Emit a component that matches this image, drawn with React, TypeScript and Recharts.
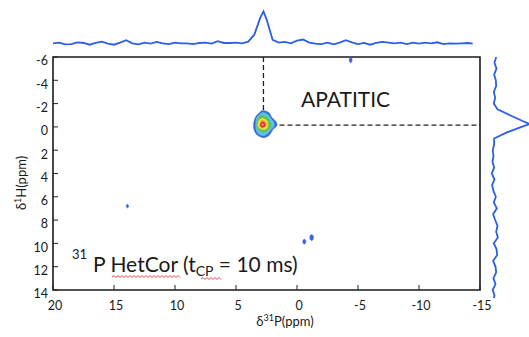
import React from 'react';
import {
  ComposedChart,
  LineChart,
  Line,
  Scatter,
  XAxis,
  YAxis,
  ReferenceLine,
  ReferenceArea,
} from 'recharts';

// ---------- axis ticks ----------
const xTicks = [20, 15, 10, 5, 0, -5, -10, -15];
const yTicks = [-6, -4, -2, 0, 2, 4, 6, 8, 10, 12, 14];

// ---------- top projection (31P) ----------
const topP = [
  20, 19.5, 19, 18.5, 18, 17.5, 17, 16.5, 16, 15.5, 15, 14.5, 14, 13.5, 13, 12.5, 12, 11.5, 11, 10.5,
  10, 9.5, 9, 8.5, 8, 7.5, 7, 6.5, 6, 5.5, 5, 4.5, 4, 3.5, 3, 2.75, 2.5, 2, 1.5, 1, 0.5, 0, -0.5, -1,
  -1.5, -2, -2.5, -3, -3.5, -4, -4.5, -5, -5.5, -6, -6.5, -7, -7.5, -8, -8.5, -9, -9.5, -10, -10.5,
  -11, -11.5, -12, -12.5, -13, -13.5, -14, -14.4,
];
const topI = [
  0, 0.2, -0.3, -0.2, 0.3, 0.1, -0.4, 0.1, 0.5, -0.1, -0.4, 0.2, 0.9, 0.0, -0.3, 0.2, -0.1, 0.4, 0.0, -0.2,
  0.2, 0.0, 0.0, -0.2, 0.1, 0.2, -0.1, 0.6, 0.1, 0.1, 0.2, 0.0, 0.5, 2.5, 7.5, 9.2, 7.0, 1.0, 0.2, 0.4,
  0.0, 0.8, 1.1, 0.2, -0.1, -0.2, 0.2, -0.3, 0.2, 0.9, 0.3, -0.2, 0.1, -0.4, 0.1, 0.4, 0.2, 0.0, 0.2,
  -0.2, 0.2, -0.1, 0.2, 0.0, 0.3, -0.2, 0.0, -0.1, 0.0, 0.1, -0.1,
];

// ---------- right projection (1H) ----------
const rightH = [
  -6, -5.5, -5, -4.5, -4, -3.5, -3, -2.5, -2, -1.5, -1, -0.5, -0.25, 0, 0.5, 1, 1.5, 2, 2.5, 3, 3.5, 4,
  4.5, 5, 5.5, 6, 6.5, 7, 7.5, 8, 8.5, 9, 9.5, 10, 10.5, 11, 11.5, 12, 12.5, 13, 13.5, 14, 14.5, 14.7,
];
const rightI = [
  0.3, -0.2, 0.4, -0.3, 0.2, 0.3, -0.4, 0.0, -0.4, 0.7, 4.4, 8.1, 10.2, 7.8, 3.3, -0.3, -0.3, -0.7, -0.5,
  -0.8, -0.3, -1.0, -0.2, -0.9, -0.5, 0.2, -0.4, 0.5, -0.6, 0.0, 0.7, 0.3, 0.8, -0.4, 0.4, 0.6, -0.6, 0.1,
  0.3, -0.5, 0.1, -0.7, -0.2, -0.4,
];

// ---------- 2D contours (δ31P, δ1H) ----------
const contourBlue = [
  { p: 2.8, h: -1.4 }, { p: 2.31, h: -1.23 }, { p: 2.06, h: -0.8 }, { p: 1.73, h: -0.46 },
  { p: 1.65, h: -0.11 }, { p: 1.98, h: 0.23 }, { p: 2.23, h: 0.66 }, { p: 2.64, h: 0.92 },
  { p: 3.05, h: 0.83 }, { p: 3.37, h: 0.57 }, { p: 3.54, h: 0.14 }, { p: 3.54, h: -0.37 },
  { p: 3.37, h: -0.89 }, { p: 3.05, h: -1.23 },
];
const contourCyan = [
  { p: 2.8, h: -1.23 }, { p: 2.39, h: -1.06 }, { p: 2.14, h: -0.72 }, { p: 1.9, h: -0.37 },
  { p: 1.9, h: -0.03 }, { p: 2.14, h: 0.23 }, { p: 2.39, h: 0.57 }, { p: 2.72, h: 0.74 },
  { p: 3.05, h: 0.66 }, { p: 3.29, h: 0.4 }, { p: 3.37, h: 0.06 }, { p: 3.37, h: -0.37 },
  { p: 3.29, h: -0.8 }, { p: 3.05, h: -1.06 },
];
const contourGreen = [
  { p: 2.8, h: -0.97 }, { p: 2.47, h: -0.8 }, { p: 2.23, h: -0.46 }, { p: 2.14, h: -0.11 },
  { p: 2.31, h: 0.23 }, { p: 2.64, h: 0.4 }, { p: 2.96, h: 0.4 }, { p: 3.21, h: 0.14 },
  { p: 3.29, h: -0.2 }, { p: 3.21, h: -0.63 }, { p: 3.05, h: -0.89 },
];
const contourYellow = [
  { p: 2.8, h: -0.72 }, { p: 2.47, h: -0.54 }, { p: 2.39, h: -0.2 }, { p: 2.47, h: 0.14 },
  { p: 2.8, h: 0.23 }, { p: 3.13, h: 0.06 }, { p: 3.21, h: -0.29 }, { p: 3.05, h: -0.63 },
];
const contourOrange = [
  { p: 2.8, h: -0.54 }, { p: 2.55, h: -0.37 }, { p: 2.55, h: -0.11 }, { p: 2.72, h: 0.06 },
  { p: 2.96, h: 0.06 }, { p: 3.05, h: -0.2 }, { p: 2.96, h: -0.46 },
];
const contourRed = [
  { p: 2.8, h: -0.41 }, { p: 2.64, h: -0.29 }, { p: 2.64, h: -0.07 }, { p: 2.8, h: 0.01 },
  { p: 2.96, h: -0.07 }, { p: 2.96, h: -0.29 },
];
const contourCore = [
  { p: 2.8, h: -0.29 }, { p: 2.72, h: -0.2 }, { p: 2.8, h: -0.11 }, { p: 2.88, h: -0.2 },
];

// small cross peaks
const spotA = [
  { p: 13.9, h: 6.65 }, { p: 13.82, h: 6.72 }, { p: 13.82, h: 6.88 }, { p: 13.9, h: 6.95 },
  { p: 13.98, h: 6.88 }, { p: 13.98, h: 6.72 },
];
const spotB = [
  { p: -0.6, h: 9.64 }, { p: -0.71, h: 9.75 }, { p: -0.71, h: 9.95 }, { p: -0.6, h: 10.06 },
  { p: -0.49, h: 9.95 }, { p: -0.49, h: 9.75 },
];
const spotC = [
  { p: -1.2, h: 9.24 }, { p: -1.33, h: 9.37 }, { p: -1.33, h: 9.63 }, { p: -1.2, h: 9.76 },
  { p: -1.07, h: 9.63 }, { p: -1.07, h: 9.37 },
];
const spotD = [
  { p: -4.4, h: -5.97 }, { p: -4.5, h: -5.86 }, { p: -4.5, h: -5.64 }, { p: -4.4, h: -5.53 },
  { p: -4.3, h: -5.64 }, { p: -4.3, h: -5.86 },
];

// peak position markers
const peakP = 2.75;
const peakH = -0.15;

// ---------- styling ----------
const TRACE = '#2c5fe2';
const FONT = 'Lato, "Open Sans", sans-serif';
const TEXT = '#1a1a1a';

const topData = topP.map((p, i) => ({ p, v: topI[i] }));
const rightData = rightH.map((h, i) => ({ h, v: rightI[i] }));

// closed smooth polygon through pixel points (Catmull-Rom)
const closedPath = (pts: { x: number; y: number }[]) => {
  const n = pts.length;
  if (!n) return '';
  let d = `M${pts[0].x},${pts[0].y}`;
  for (let i = 0; i < n; i++) {
    const p0 = pts[(i - 1 + n) % n];
    const p1 = pts[i];
    const p2 = pts[(i + 1) % n];
    const p3 = pts[(i + 2) % n];
    const c1x = p1.x + (p2.x - p0.x) / 6;
    const c1y = p1.y + (p2.y - p0.y) / 6;
    const c2x = p2.x - (p3.x - p1.x) / 6;
    const c2y = p2.y - (p3.y - p1.y) / 6;
    d += ` C${c1x},${c1y} ${c2x},${c2y} ${p2.x},${p2.y}`;
  }
  return d + ' Z';
};

const polyLine = (color: string) => (props: any) => {
  const pts = (props.points || []).filter((q: any) => q && isFinite(q.x) && isFinite(q.y));
  if (!pts.length) return <g />;
  return <path d={closedPath(pts)} fill={color} stroke={color} strokeWidth={0.6} />;
};

const EmptyShape = () => <g />;

const XTick = (props: any) => {
  const { x, y, payload } = props;
  return (
    <g>
      <line x1={x} x2={x} y1={y - 11} y2={y - 16} stroke="#222" strokeWidth={1} />
      <text x={x + 2} y={y} dy="0.71em" textAnchor="middle" fontFamily={FONT} fontSize={12.5} fill={TEXT}>
        {payload.value}
      </text>
    </g>
  );
};

const YTick = (props: any) => {
  const { x, y, payload } = props;
  return (
    <g>
      <line x1={x + 5} x2={x + 10} y1={y} y2={y} stroke="#222" strokeWidth={1} />
      <text x={x} y={y + 4} dy="0.35em" textAnchor="end" fontFamily={FONT} fontSize={12.5} fill={TEXT}>
        {payload.value}
      </text>
    </g>
  );
};

const wavy = (x1: number, x2: number, y: number) => {
  let d = `M${x1},${y}`;
  let up = true;
  for (let x = x1 + 2; x <= x2; x += 2) {
    d += ` L${x},${up ? y - 1.5 : y + 0.5}`;
    up = !up;
  }
  return d;
};

const contours: { data: { p: number; h: number }[]; color: string }[] = [
  { data: contourBlue, color: '#3d68d8' },
  { data: contourCyan, color: '#5cc4dc' },
  { data: contourGreen, color: '#63bf55' },
  { data: contourYellow, color: '#ece23c' },
  { data: contourOrange, color: '#f39032' },
  { data: contourRed, color: '#e6222b' },
  { data: contourCore, color: '#f6a2a2' },
  { data: spotA, color: '#3a62e0' },
  { data: spotB, color: '#3a62e0' },
  { data: spotC, color: '#3a62e0' },
  { data: spotD, color: '#3a62e0' },
];

export default function App() {
  return (
    <div style={{ position: 'absolute', left: 0, top: 0, width: 529, height: 337, background: '#fff' }}>
      {/* main 2D plot */}
      <div style={{ position: 'absolute', left: 0, top: 0 }}>
        <ComposedChart width={529} height={337} margin={{ top: 57, right: 49, bottom: 17, left: 13 }}>
          <XAxis
            type="number"
            dataKey="p"
            domain={[-15, 20]}
            reversed
            ticks={xTicks}
            interval={0}
            tick={<XTick />}
            tickLine={false}
            axisLine={false}
            tickSize={0}
            tickMargin={11}
            height={30}
            allowDataOverflow
          />
          <YAxis
            type="number"
            dataKey="h"
            domain={[-6, 14]}
            reversed
            ticks={yTicks}
            interval={0}
            tick={<YTick />}
            tickLine={false}
            axisLine={false}
            tickSize={0}
            tickMargin={5}
            width={40}
            allowDataOverflow
          />
          {contours.map((c, i) => (
            <Scatter
              key={i}
              data={c.data}
              fill={c.color}
              line={polyLine(c.color)}
              shape={EmptyShape}
              isAnimationActive={false}
              legendType="none"
            />
          ))}
          <ReferenceLine
            segment={[{ x: peakP, y: -6 }, { x: peakP, y: peakH }]}
            stroke="#222"
            strokeWidth={1.3}
            strokeDasharray="5 3"
          />
          <ReferenceLine
            segment={[{ x: peakP, y: peakH }, { x: -15, y: peakH }]}
            stroke="#222"
            strokeWidth={1.3}
            strokeDasharray="5 3"
          />
          <ReferenceArea x1={20} x2={-15} y1={-6} y2={14} fill="none" stroke="#1a1a1a" strokeWidth={1.6} />
        </ComposedChart>
      </div>

      {/* top projection */}
      <div style={{ position: 'absolute', left: 0, top: 0 }}>
        <LineChart width={529} height={52} data={topData} margin={{ top: 0, right: 49, bottom: 0, left: 53 }}>
          <XAxis type="number" dataKey="p" domain={[-15, 20]} reversed hide allowDataOverflow />
          <YAxis type="number" domain={[-2.5, 12.5]} hide allowDataOverflow />
          <Line dataKey="v" stroke={TRACE} strokeWidth={1.8} dot={false} type="linear" isAnimationActive={false} />
        </LineChart>
      </div>

      {/* right projection */}
      <div style={{ position: 'absolute', left: 485, top: 0 }}>
        <LineChart
          width={44}
          height={337}
          data={rightData}
          layout="vertical"
          margin={{ top: 57, right: 0, bottom: 39, left: 0 }}
        >
          <XAxis type="number" domain={[-3, 10]} hide allowDataOverflow />
          <YAxis type="number" dataKey="h" domain={[-6, 14.7]} hide allowDataOverflow />
          <Line dataKey="v" stroke={TRACE} strokeWidth={1.8} dot={false} type="linear" isAnimationActive={false} />
        </LineChart>
      </div>

      {/* text annotations */}
      <svg width={529} height={337} style={{ position: 'absolute', left: 0, top: 0, pointerEvents: 'none' }}>
        <text x={301} y={107} fontFamily={FONT} fontSize={21} fill={TEXT}>
          APATITIC
        </text>
        <text x={72} y={259} fontFamily={FONT} fontSize={13} fill={TEXT}>
          31
        </text>
        <text x={93} y={272} fontFamily={FONT} fontSize={21} fill={TEXT}>
          P HetCor (t
          <tspan fontSize={14} dy={4}>CP</tspan>
          <tspan dy={-4}> = 10 ms)</tspan>
        </text>
        <path d={wavy(112, 180, 277)} stroke="#e03030" strokeWidth={0.9} fill="none" />
        <path d={wavy(201, 222, 279)} stroke="#e03030" strokeWidth={0.9} fill="none" />
        <text x={285} y={326} textAnchor="middle" fontFamily={FONT} fontSize={13} fill={TEXT}>
          δ<tspan fontSize={9} dy={-5}>31</tspan>
          <tspan dy={5}>P(ppm)</tspan>
        </text>
        <text
          transform="translate(26,183) rotate(-90)"
          textAnchor="middle"
          fontFamily={FONT}
          fontSize={13}
          fill={TEXT}
        >
          δ<tspan fontSize={9} dy={-5}>1</tspan>
          <tspan dy={5}>H(ppm)</tspan>
        </text>
      </svg>
    </div>
  );
}
